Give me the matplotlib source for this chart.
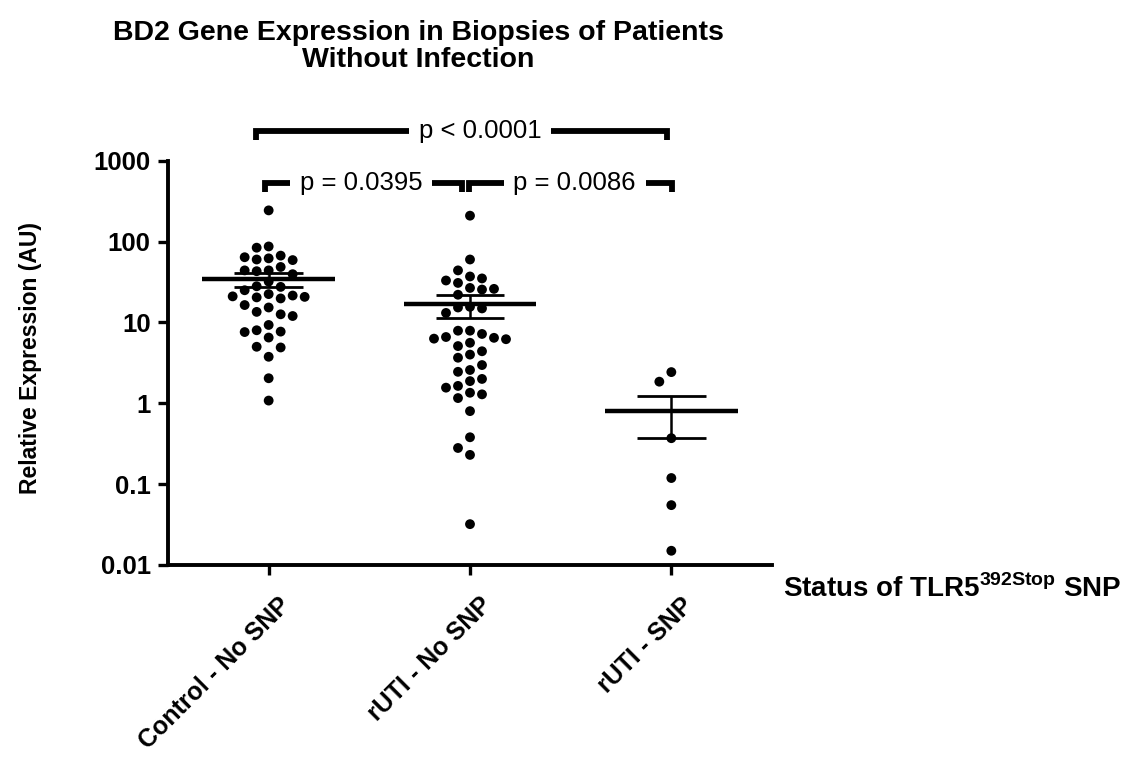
import numpy as np
import matplotlib
matplotlib.use('Agg')
import matplotlib.pyplot as plt
from matplotlib.transforms import blended_transform_factory, ScaledTranslation

# ---------------- data ----------------
categories = ['Control - No SNP', 'rUTI - No SNP', 'rUTI - SNP']
control_no_snp = [243, 87, 84, 64, 60, 59, 62, 67, 48.5, 44, 43, 44, 39.5, 32,
                  28, 25, 27.5, 22.4, 21, 20.7, 19.8, 20.4, 21.5, 16.4, 15.3,
                  12.6, 13.5, 12, 9.3, 8.0, 7.6, 7.7, 6.5, 5.0, 4.9, 3.76,
                  2.04, 1.08]
ruti_no_snp = [209, 60, 44, 35, 33, 37, 30.8, 26, 25.5, 26.7, 22, 15.6, 14.9,
               15.3, 13.1, 7.9, 7.2, 7.9, 6.6, 6.45, 6.2, 6.3, 5.6, 5.1, 4.4,
               4.0, 3.66, 2.97, 2.58, 2.45, 2.0, 1.88, 1.64, 1.56, 1.35, 1.29,
               1.16, 0.80, 0.38, 0.28, 0.23, 0.032]
ruti_snp = [2.43, 1.85, 0.37, 0.119, 0.055, 0.015]
groups = [control_no_snp, ruti_no_snp, ruti_snp]

y_ticks = [0.01, 0.1, 1, 10, 100, 1000]
y_tick_labels = ['0.01', '0.1', '1', '10', '100', '1000']

comp_pairs = [(0, 1), (1, 2), (0, 2)]
comp_labels = ['p = 0.0395', 'p = 0.0086', 'p < 0.0001']

title_lines = ['BD2 Gene Expression in Biopsies of Patients', 'Without Infection']
y_label = 'Relative Expression (AU)'
x_label = r'Status of TLR5$^{\mathbf{392Stop}}$ SNP'

# ---------------- style ----------------
plt.rcParams['font.family'] = ['Liberation Sans', 'DejaVu Sans']
plt.rcParams['mathtext.fontset'] = 'custom'
plt.rcParams['mathtext.rm'] = 'Liberation Sans:bold'
plt.rcParams['mathtext.bf'] = 'Liberation Sans:bold'

W, H = 1141, 762
fig = plt.figure(figsize=(W / 100, H / 100), dpi=100)
ax = fig.add_axes([168 / W, 1 - 565 / H, (772 - 168) / W, (565 - 160.7) / H])
ax.set_yscale('log')
ax.set_ylim(0.01, 1000)
ax.set_xlim(-0.5, 2.5)

# pixel scales of the axes
bbox = ax.get_window_extent()
px_per_x = bbox.width / 3.0
px_per_dec = bbox.height / 5.0


def swarm_offsets(vals, slot_px=12.0, min_dist=11.0):
    ys = np.log10(np.asarray(vals, float)) * px_per_dec
    order = np.argsort(-ys)
    placed = []
    offs = np.zeros(len(vals))
    cands = [0]
    for j in range(1, 30):
        cands += [-j, j]
    for i in order:
        y = ys[i]
        for c in cands:
            x = c * slot_px
            if all((x - px) ** 2 + (y - py) ** 2 >= min_dist ** 2 for px, py in placed):
                break
        placed.append((x, y))
        offs[i] = x
    return offs / px_per_x


for gi, vals in enumerate(groups):
    vals = np.asarray(vals, float)
    xo = swarm_offsets(vals)
    ax.scatter(gi + xo, vals, s=50, color='black', edgecolors='none',
               zorder=2, clip_on=False)
    m = vals.mean()
    sem = vals.std(ddof=1) / np.sqrt(len(vals))
    ax.hlines(m, gi - 0.33, gi + 0.33, color='black', lw=3.2, zorder=3)
    ax.vlines(gi, m - sem, m + sem, color='black', lw=1.8, zorder=3)
    ax.hlines([m - sem, m + sem], gi - 0.17, gi + 0.17, color='black',
              lw=2.0, zorder=3)

# axes styling
for side in ['top', 'right']:
    ax.spines[side].set_visible(False)
for side in ['left', 'bottom']:
    ax.spines[side].set_linewidth(2.8)
ax.set_yticks(y_ticks)
ax.set_yticklabels(y_tick_labels, fontsize=18.5, fontweight='bold')
ax.yaxis.set_minor_locator(matplotlib.ticker.NullLocator())
ax.tick_params(axis='y', length=7.5, width=2.4, pad=5)
ax.set_xticks(range(len(categories)))
ax.set_xticklabels(categories, fontsize=18, fontweight='bold', rotation=45,
                   ha='right', va='top', rotation_mode='anchor')
ax.tick_params(axis='x', length=7, width=2.4, pad=13)
shift = ScaledTranslation(7 / 72, 0, fig.dpi_scale_trans)
for lbl in ax.get_xticklabels():
    lbl.set_transform(lbl.get_transform() + shift)

# significance brackets (x in data, y in axes fraction)
trans = blended_transform_factory(ax.transData, ax.transAxes)
br_x0 = [-0.02, 0.995, -0.065]
br_x1 = [0.96, 2.005, 1.98]
br_y = [0.945, 0.945, 1.073]
br_drop = 0.022
txt_x = [0.46, 1.52, 1.05]
for k, (a, b) in enumerate(comp_pairs):
    x0, x1, y = br_x0[k], br_x1[k], br_y[k]
    ax.plot([x0, x0, x1, x1], [y - br_drop, y, y, y - br_drop], color='black',
            lw=4.2, solid_joinstyle='miter', solid_capstyle='butt',
            transform=trans, clip_on=False, zorder=4)
    ax.text(txt_x[k], y, comp_labels[k], transform=trans, ha='center',
            va='center', fontsize=18.5, zorder=5,
            bbox=dict(facecolor='white', edgecolor='none', pad=7))

# titles and labels
fig.text(418 / W, 1 - 40 / H, title_lines[0], ha='center', va='baseline',
         fontsize=20.5, fontweight='bold')
fig.text(418 / W, 1 - 67 / H, title_lines[1], ha='center', va='baseline',
         fontsize=20.5, fontweight='bold')
fig.text(31 / W, 1 - 358 / H, y_label, rotation=90, ha='center', va='center',
         fontsize=16.5, fontweight='bold')
fig.text(783 / W, 1 - 597 / H, x_label, ha='left', va='baseline',
         fontsize=20, fontweight='bold')

fig.savefig('out.png', dpi=100, facecolor='white')
